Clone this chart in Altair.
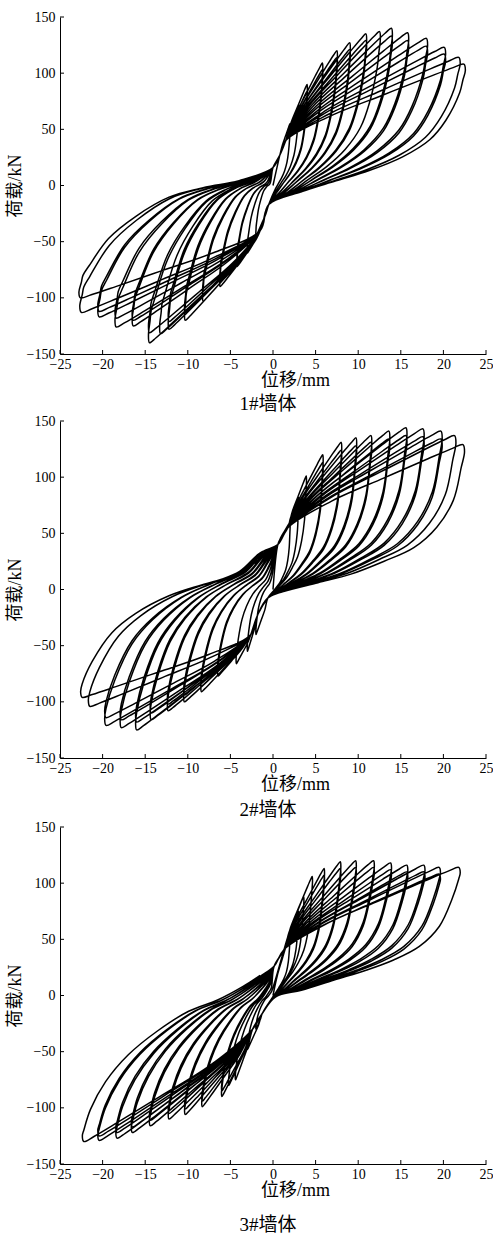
import altair as alt
import pandas as pd

# ---------------- data ----------------
# Wall 1: peak points of each cycle (displacement mm, load kN)
W1_POS_X = [2.0, 3.0, 4.0, 4.0, 5.8, 5.8, 7.5, 7.5, 9.0, 9.0, 10.9, 10.9, 12.5, 13.9, 13.9, 15.8, 15.8, 18.0, 18.0, 20.1, 20.1, 21.8, 22.4]
W1_POS_F = [55, 72, 90, 84, 109, 103, 120, 114, 127, 121, 135, 129, 137, 140, 133, 136, 129, 131, 124, 123, 117, 114, 108]
W1_NEG_X = [-2.0, -3.0, -4.2, -4.2, -6.2, -6.2, -8.2, -8.2, -10.3, -10.3, -12.2, -12.2, -13.2, -14.5, -14.5, -16.4, -16.4, -18.4, -18.4, -20.4, -20.4, -22.5, -22.6]
W1_NEG_F = [-45, -60, -72, -68, -90, -85, -103, -97, -120, -113, -128, -121, -132, -140, -131, -125, -120, -126, -118, -117, -112, -113, -100]
# unloading branches, read from the outer loops as fractions of the peak
W1_UNLOAD_POS = [(1.008, 0.95), (0.995, 0.87), (0.978, 0.764), (0.906, 0.538), (0.821, 0.377), (0.679, 0.236), (0.504, 0.123), (0.33, 0.038), (0.156, -0.047)]
W1_UNLOAD_NEG = [(1.008, 0.95), (0.995, 0.86), (0.987, 0.8), (0.956, 0.717), (0.854, 0.472), (0.712, 0.274), (0.54, 0.104), (0.385, 0.028), (0.177, -0.038)]
W1_PINCH_POS = [(0.0, 16), (0.8, 27)]
W1_KNEE_POS = (1.5, 40)
W1_PINCH_NEG = [(-0.5, -17)]
W1_KNEE_NEG = (-1.5, -40)

# Wall 2
W2_POS_X = [2.0, 3.0, 3.9, 5.84, 5.84, 8.0, 8.0, 9.74, 9.74, 11.5, 11.5, 13.6, 13.6, 15.6, 15.6, 17.6, 17.6, 19.7, 19.7, 21.3, 22.3]
W2_POS_F = [60, 82, 101, 120, 113, 131, 124, 135, 128, 137, 131, 141, 134, 144, 137, 143, 136, 141, 134, 137, 129]
W2_NEG_X = [-2.0, -3.0, -4.3, -6.45, -6.45, -8.4, -8.4, -10.4, -10.4, -12.3, -12.3, -14.3, -14.3, -16.0, -16.0, -17.8, -17.8, -19.6, -19.6, -21.5, -22.4]
W2_NEG_F = [-40, -55, -66, -77, -72, -91, -86, -100, -94, -108, -102, -116, -110, -125, -118, -123, -116, -121, -114, -104, -96]
W2_UNLOAD_POS = [(1.008, 0.95), (0.991, 0.844), (0.949, 0.615), (0.862, 0.43), (0.741, 0.289), (0.585, 0.195), (0.41, 0.106), (0.237, 0.047), (0.06, -0.012)]
W2_UNLOAD_NEG = [(1.008, 0.95), (1.0, 0.876), (0.948, 0.669), (0.844, 0.4), (0.721, 0.223), (0.548, 0.06), (0.374, -0.043), (0.2, -0.133), (0.079, -0.267)]
W2_PINCH_POS = [(0.57, 40)]
W2_KNEE_POS = (1.74, 55)
W2_PINCH_NEG = [(-0.6, -7.5), (-1.77, -22)]
W2_KNEE_NEG = (-2.6, -40)

# Wall 3
W3_POS_X = [2.0, 3.0, 3.6, 4.6, 6.0, 6.0, 7.9, 7.9, 9.7, 9.7, 11.8, 11.8, 13.8, 13.8, 15.7, 15.7, 17.7, 17.7, 19.5, 19.5, 21.8]
W3_POS_F = [55, 75, 88, 106, 113, 107, 119, 113, 120, 114, 120, 114, 118, 112, 116, 110, 116, 110, 114, 108, 114]
W3_NEG_X = [-2.0, -3.0, -4.4, -5.2, -6.0, -6.0, -8.3, -8.3, -10.3, -10.3, -12.2, -12.2, -14.4, -14.4, -16.5, -16.5, -18.3, -18.3, -20.4, -20.4, -22.2]
W3_NEG_F = [-30, -48, -75, -80, -90, -85, -99, -94, -106, -101, -110, -105, -116, -111, -122, -117, -127, -122, -129, -125, -130]
W3_UNLOAD_POS = [(1.008, 0.96), (1.0, 0.91), (0.964, 0.753), (0.896, 0.541), (0.788, 0.383), (0.649, 0.277), (0.505, 0.199), (0.329, 0.121), (0.153, 0.041), (0.013, -0.012)]
W3_UNLOAD_NEG = [(1.008, 0.96), (1.0, 0.921), (0.965, 0.78), (0.885, 0.59), (0.765, 0.406), (0.611, 0.243), (0.446, 0.108), (0.293, 0.031), (0.158, -0.062), (0.068, -0.138)]
W3_PINCH_POS = [(0.13, 26)]
W3_KNEE_POS = (1.3, 41)
W3_PINCH_NEG = [(-1.26, -16)]
W3_KNEE_NEG = (-2.4, -30)

# loading branch shape (knee -> peak)
LOAD_S = [(0.25, 0.32), (0.55, 0.6), (0.8, 0.83), (0.94, 0.955)]

X_TICKS = [-25, -20, -15, -10, -5, 0, 5, 10, 15, 20, 25]
Y_TICKS = [-150, -100, -50, 0, 50, 100, 150]
CAPTIONS = ["1#墙体", "2#墙体", "3#墙体"]

FONT = "Liberation Serif, Noto Sans CJK SC"
W, H = 426, 337


def build(px, pf, nx, nf, unl_p, unl_n, pinch_p, knee_p, pinch_n, knee_n):
    pts = [(0.0, 0.0)]
    for dp, fp, dn, fn in zip(px, pf, nx, nf):
        for (a, b) in pinch_p:
            if a > pts[-1][0] + 0.3 and a < dp - 0.5 and b < fp - 5:
                pts.append((a, b))
        if knee_p[0] > pts[-1][0] + 0.3 and knee_p[0] < dp - 0.8 and knee_p[1] < fp - 10:
            pts.append(knee_p)
        sx, sf = pts[-1]
        for a, b in LOAD_S:
            pts.append((sx + a * (dp - sx), sf + b * (fp - sf)))
        pts.append((dp, fp))
        for a, b in unl_p:
            pts.append((a * dp, b * fp))
        for (a, b) in pinch_n:
            if a < pts[-1][0] - 0.3 and a > dn + 0.5 and b > fn + 5:
                pts.append((a, b))
        if knee_n[0] < pts[-1][0] - 0.3 and knee_n[0] > dn + 0.8 and knee_n[1] > fn + 10:
            pts.append(knee_n)
        sx, sf = pts[-1]
        for a, b in LOAD_S:
            pts.append((sx + a * (dn - sx), sf + b * (fn - sf)))
        pts.append((dn, fn))
        for a, b in unl_n:
            pts.append((a * dn, b * fn))
    return pd.DataFrame({"x": [p[0] for p in pts], "F": [p[1] for p in pts], "i": list(range(len(pts)))})


panels = [
    build(W1_POS_X, W1_POS_F, W1_NEG_X, W1_NEG_F, W1_UNLOAD_POS, W1_UNLOAD_NEG, W1_PINCH_POS, W1_KNEE_POS, W1_PINCH_NEG, W1_KNEE_NEG),
    build(W2_POS_X, W2_POS_F, W2_NEG_X, W2_NEG_F, W2_UNLOAD_POS, W2_UNLOAD_NEG, W2_PINCH_POS, W2_KNEE_POS, W2_PINCH_NEG, W2_KNEE_NEG),
    build(W3_POS_X, W3_POS_F, W3_NEG_X, W3_NEG_F, W3_UNLOAD_POS, W3_UNLOAD_NEG, W3_PINCH_POS, W3_KNEE_POS, W3_PINCH_NEG, W3_KNEE_NEG),
]

xscale = alt.Scale(domain=[-25, 25], nice=False, zero=False)
yscale = alt.Scale(domain=[-150, 150], nice=False, zero=False)

XAXIS = alt.Axis(values=X_TICKS, tickSize=0, labelPadding=3, title="位移/mm", titleX=235,
                 titlePadding=0, grid=False, domainColor="black", labelColor="black",
                 labelFont=FONT, labelFontSize=14, titleFont=FONT, titleFontSize=18,
                 titleFontWeight="normal", titleColor="black", labelFlush=False)
YAXIS = alt.Axis(values=Y_TICKS, tickSize=0, labelPadding=5, title="荷载/kN",
                 titlePadding=2, grid=False, domainColor="black", labelColor="black",
                 labelFont=FONT, labelFontSize=14, titleFont=FONT, titleFontSize=18,
                 titleFontWeight="normal", titleColor="black", labelFlush=False)

xt = pd.DataFrame({"v": X_TICKS})
yt = pd.DataFrame({"v": Y_TICKS})


def panel(df, caption, cap_offset):
    line = alt.Chart(df).mark_line(color="black", strokeWidth=1.5, interpolate="catmull-rom").encode(
        x=alt.X("x:Q", scale=xscale, axis=XAXIS),
        y=alt.Y("F:Q", scale=yscale, axis=YAXIS),
        order="i:Q",
    )
    xticks = alt.Chart(xt).mark_rule(color="black", strokeWidth=1).encode(
        x=alt.X("v:Q", scale=xscale, axis=XAXIS), y=alt.value(H), y2=alt.value(H - 4))
    yticks = alt.Chart(yt).mark_rule(color="black", strokeWidth=1).encode(
        y=alt.Y("v:Q", scale=yscale, axis=YAXIS), x=alt.value(0), x2=alt.value(4))
    return alt.layer(line, xticks, yticks).properties(
        width=W, height=H,
        title=alt.TitleParams(caption, orient="bottom", font=FONT, fontSize=19,
                              fontWeight="normal", color="black", offset=cap_offset, dx=-5,
                              anchor="middle"))


p1 = panel(panels[0], CAPTIONS[0], 6)
p2 = panel(panels[1], CAPTIONS[1], 8)
p3 = panel(panels[2], CAPTIONS[2], 17)

chart = alt.vconcat(alt.vconcat(p1, p2, spacing=0), p3, spacing=0).properties(
    padding={"left": 6, "top": 10, "right": 0, "bottom": 0}
).configure_view(stroke=None).configure_axis(domainWidth=1)

chart.save("out.html", embed_options={"renderer": "svg", "actions": False})
